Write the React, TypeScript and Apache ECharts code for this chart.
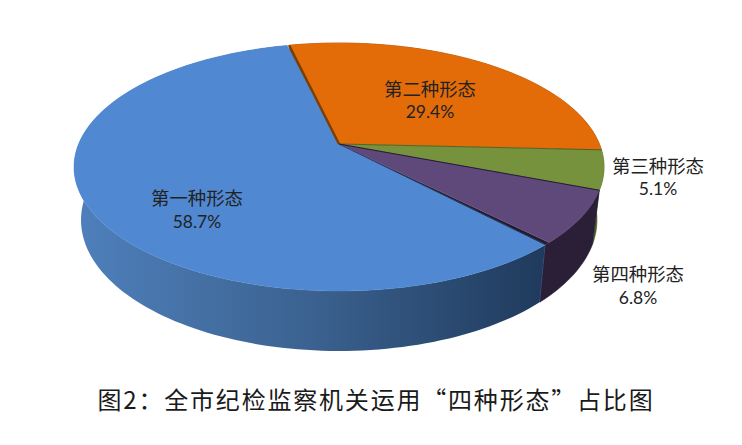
import React, { useEffect, useRef } from "react";
import * as echarts from "echarts";

const categories = ["第一种形态", "第二种形态", "第三种形态", "第四种形态"];
const shares = [58.7, 29.4, 5.1, 6.8];
const percentLabels = ["58.7%", "29.4%", "5.1%", "6.8%"];
const chartTitle = "图2：全市纪检监察机关运用“四种形态”占比图";

const topColors = ["#5088D2", "#E36C09", "#76923C", "#5F497A"];
const edgeColors = ["#1F2F4C", "#7A3F06", "#3F5020", "#241A30"];
const wallFills: any[] = [
  new echarts.graphic.LinearGradient(0, 0, 1, 0, [
    { offset: 0, color: "#4F80BC" },
    { offset: 0.5, color: "#3B6290" },
    { offset: 1, color: "#1F3A5C" },
  ]),
  "#7A3F06",
  "#4A6128",
  "#2A1F36",
];
const labelAnchors = [
  [197, 209],
  [430, 99.5],
  [658, 176.5],
  [638, 285],
];

const START_ANGLE = 135.6;
const BLUE_TRIM_START = 1.1;
const BLUE_TRIM_END = 0.5;
const APEX = [339, 144];
const TOP_CY = 167;
const TOP_RX = 265;
const TOP_RY = 124;
const BOTTOM_CY = 220;
const BOTTOM_RX = 258;
const BOTTOM_RY = 131;
const PERSPECTIVE = 0.1855;
const PLANE_X = 260.4;
const PLANE_Y = 119.7;

const total = shares.reduce((a, b) => a + b, 0);
const sliceStart = (i: number) =>
  START_ANGLE + (shares.slice(0, i).reduce((a, b) => a + b, 0) / total) * 360;

function rim(deg: number): number[] {
  const r = (deg * Math.PI) / 180;
  const u = Math.sin(r);
  const v = -Math.cos(r);
  const w = 1 - PERSPECTIVE * v;
  return [APEX[0] + (PLANE_X * u) / w, APEX[1] + (PLANE_Y * v) / w];
}
function lower(p: number[]): number[] {
  return [
    APEX[0] + ((p[0] - APEX[0]) * BOTTOM_RX) / TOP_RX,
    BOTTOM_CY + ((p[1] - TOP_CY) * BOTTOM_RY) / TOP_RY,
  ];
}
function arc(from: number, to: number): number[][] {
  const n = Math.max(2, Math.ceil((to - from) / 1.5));
  const pts: number[][] = [];
  for (let i = 0; i <= n; i++) pts.push(rim(from + ((to - from) * i) / n));
  return pts;
}
function sweep(i: number, value: number): number[] {
  const a = sliceStart(i);
  const b = a + (value / total) * 360;
  return i === 0 ? [a + BLUE_TRIM_START, b - BLUE_TRIM_END] : [a, b];
}

function renderWall(params: any, api: any) {
  const i = params.dataIndex;
  const [a, b0] = sweep(i, api.value(0));
  const b = i === shares.length - 1 ? b0 + BLUE_TRIM_START : b0;
  const upper = arc(a, b);
  const points = [...upper, ...upper.map(lower).reverse()];
  const children: any[] = [
    {
      type: "polygon",
      shape: { points },
      style: { fill: wallFills[i], stroke: i === 0 ? "none" : edgeColors[i], lineWidth: 0.5 },
    },
  ];
  if (i === 0) {
    const low = lower(upper[0]);
    children.push({
      type: "line",
      shape: { x1: upper[0][0], y1: upper[0][1], x2: low[0], y2: low[1] },
      style: { stroke: "#4F81BD", lineWidth: 1 },
    });
  }
  return { type: "group", children };
}

function renderTop(params: any, api: any) {
  const i = params.dataIndex;
  const [a, b] = sweep(i, api.value(0));
  const upper = arc(a, b);
  const children: any[] = [];
  if (i === 0) {
    children.push({
      type: "polygon",
      shape: { points: [APEX, rim(a - BLUE_TRIM_START), upper[0]] },
      style: { fill: edgeColors[3] },
    });
  }
  children.push({
    type: "polygon",
    shape: { points: [APEX, ...upper] },
    style: { fill: topColors[i], stroke: topColors[i], lineWidth: 0.5 },
  });
  if (i > 0) {
    children.push({
      type: "line",
      shape: { x1: APEX[0], y1: APEX[1], x2: upper[0][0], y2: upper[0][1] },
      style: { stroke: edgeColors[i], lineWidth: i === 1 ? 2.5 : 1, opacity: i === 2 ? 0.7 : 1 },
    });
  } else {
    children.push({
      type: "line",
      shape: { x1: APEX[0], y1: APEX[1], x2: upper[0][0], y2: upper[0][1] },
      style: { stroke: edgeColors[0], lineWidth: 1 },
    });
  }
  return { type: "group", children };
}

function renderLabel(params: any, api: any) {
  const i = params.dataIndex;
  const [x, y] = labelAnchors[i];
  return {
    type: "group",
    children: [
      {
        type: "text",
        style: {
          x,
          y: y - 12,
          text: categories[i],
          fill: "#222222",
          font: '18.4px "Noto Sans CJK SC"',
          align: "center",
          verticalAlign: "middle",
        },
      },
      {
        type: "text",
        style: {
          x,
          y: y + 12,
          text: percentLabels[i],
          fill: "#222222",
          font: '17.5px "Lato"',
          align: "center",
          verticalAlign: "middle",
        },
      },
    ],
  };
}

export default function App() {
  const ref = useRef<HTMLDivElement>(null);
  useEffect(() => {
    const chart = echarts.init(ref.current!, undefined, { renderer: "svg" });
    const data = shares.map((v) => [v]);
    chart.setOption({
      animation: false,
      backgroundColor: "#ffffff",
      title: {
        text: chartTitle,
        left: 371,
        top: 381,
        textAlign: "center",
        textStyle: {
          fontFamily: '"Noto Sans CJK SC"',
          fontSize: 24,
          fontWeight: 400,
          color: "#1a1a1a",
        },
      },
      series: [
        { type: "custom", coordinateSystem: "none", renderItem: renderWall, data, silent: true, z: 1 },
        { type: "custom", coordinateSystem: "none", renderItem: renderTop, data, silent: true, z: 2 },
        { type: "custom", coordinateSystem: "none", renderItem: renderLabel, data, silent: true, z: 3 },
      ],
    });
    ref.current!.querySelectorAll("text").forEach((t) => {
      if (t.textContent === chartTitle) t.setAttribute("letter-spacing", "1.8");
    });
    return () => chart.dispose();
  }, []);
  return <div ref={ref} style={{ position: "fixed", left: 0, top: 0, width: 742, height: 445 }} />;
}
